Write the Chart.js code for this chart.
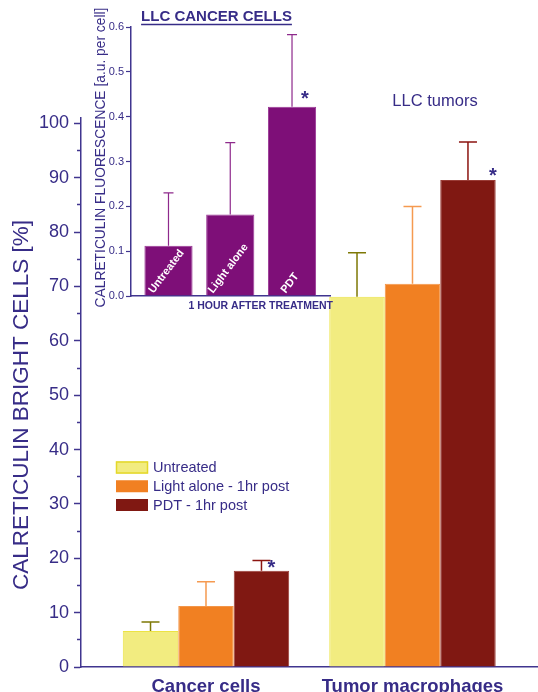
<!DOCTYPE html>
<html>
<head>
<meta charset="utf-8">
<script src="https://cdn.jsdelivr.net/npm/chart.js@4/dist/chart.umd.min.js"></script>
<style>
  body { margin: 0; background: #fff; }
  #wrap { position: relative; width: 538px; height: 692px; overflow: hidden; }
  #main, #inset { position: absolute; left: 0; top: 0; }
</style>
</head>
<body>
<div id="wrap">
  <canvas id="main" width="538" height="692"></canvas>
  <canvas id="inset" width="345" height="325"></canvas>
</div>
<script>
// main chart data
const groups = ['Cancer cells', 'Tumor macrophages'];
const treatments = ['Untreated', 'Light alone - 1hr post', 'PDT - 1hr post'];
const untreated = [6.6, 68.1];
const untreatedErr = [1.7, 8.1];
const lightAlone = [11.2, 70.5];
const lightAloneErr = [4.5, 14.2];
const pdt = [17.7, 89.6];
const pdtErr = [1.9, 7.0];
const mainTicks = [0, 10, 20, 30, 40, 50, 60, 70, 80, 90, 100];
const mainMinorTicks = [5, 15, 25, 35, 45, 55, 65, 75, 85, 95];

// inset data
const insetLabels = ['Untreated', 'Light alone', 'PDT'];
const insetValues = [0.112, 0.182, 0.422];
const insetErr = [0.118, 0.160, 0.161];
const insetTicks = [0, 0.1, 0.2, 0.3, 0.4, 0.5, 0.6];

// significance marks: dataset, bar index, y value
const mainStars = [[2, 0, 19.1], [2, 1, 91.2]];
const insetStars = [[0, 2, 0.45]];

const INDIGO = '#372c87';
const AXIS = '#40358f';
const FONT = "'Liberation Sans', Arial, sans-serif";

const toXY = arr => arr.map((v, i) => ({ x: i, y: v }));

const errorBars = {
  id: 'errorBars',
  afterDatasetsDraw(chart, args, opts) {
    const ctx = chart.ctx;
    const y = chart.scales.y;
    chart.data.datasets.forEach((ds, di) => {
      chart.getDatasetMeta(di).data.forEach((bar, i) => {
        const top = y.getPixelForValue(ds.data[i].y + ds.err[i]);
        ctx.save();
        ctx.strokeStyle = ds.errColor;
        ctx.lineWidth = opts.width;
        ctx.beginPath();
        ctx.moveTo(bar.x, bar.y);
        ctx.lineTo(bar.x, top);
        ctx.moveTo(bar.x - opts.cap / 2, top);
        ctx.lineTo(bar.x + opts.cap / 2, top);
        ctx.stroke();
        ctx.restore();
      });
    });
    // asterisks
    ctx.save();
    ctx.fillStyle = INDIGO;
    ctx.font = 'bold 20px ' + FONT;
    ctx.textAlign = 'center';
    ctx.textBaseline = 'alphabetic';
    opts.stars.forEach(([di, i, v]) => {
      const bar = chart.getDatasetMeta(di).data[i];
      ctx.fillText('*', bar.x + opts.starDx[i], y.getPixelForValue(v) + 11);
    });
    ctx.restore();
  }
};

const mainDecor = {
  id: 'mainDecor',
  afterDraw(chart) {
    const ctx = chart.ctx;
    ctx.save();
    // legend
    chart.data.datasets.forEach((ds, i) => {
      const cy = 467.5 + i * 18.75;
      ctx.fillStyle = ds.backgroundColor;
      ctx.fillRect(116, cy - 6, 32, 12);
      if (i === 0) {
        ctx.strokeStyle = '#e4d82a';
        ctx.lineWidth = 1.5;
        ctx.strokeRect(116.5, cy - 5.5, 31, 11);
      }
      ctx.fillStyle = INDIGO;
      ctx.font = '14.5px ' + FONT;
      ctx.textAlign = 'left';
      ctx.textBaseline = 'middle';
      ctx.fillText(ds.label, 153, cy + 0.5);
    });
    ctx.font = '16.5px ' + FONT;
    ctx.textAlign = 'center';
    ctx.fillText('LLC tumors', 435, 101);
    // y title
    ctx.translate(21.5, 405);
    ctx.rotate(-Math.PI / 2);
    ctx.font = '22.5px ' + FONT;
    ctx.fillText('CALRETICULIN BRIGHT CELLS [%]', 0, 0);
    ctx.restore();
  }
};

new Chart(document.getElementById('main'), {
  type: 'bar',
  data: {
    datasets: [
      { label: treatments[0], data: toXY(untreated), err: untreatedErr,
        backgroundColor: '#f2ec80', borderColor: '#ece344', borderWidth: 1, errColor: '#7e7806' },
      { label: treatments[1], data: toXY(lightAlone), err: lightAloneErr,
        backgroundColor: '#f18022', borderColor: '#f39548', borderWidth: 1, errColor: '#f59a50' },
      { label: treatments[2], data: toXY(pdt), err: pdtErr,
        backgroundColor: '#801812', borderColor: '#9a3c36', borderWidth: 1, errColor: '#8c1410' }
    ]
  },
  options: {
    responsive: false,
    animation: false,
    layout: { padding: { top: 118, right: 0, bottom: 0, left: 0 } },
    datasets: { bar: { categoryPercentage: 0.806, barPercentage: 1 } },
    plugins: {
      legend: { display: false },
      tooltip: { enabled: false },
      errorBars: { width: 1.5, cap: 18, stars: mainStars, starDx: [10, 25] }
    },
    scales: {
      x: {
        type: 'linear', min: -0.6053, max: 1.6078, offset: false, bounds: 'data',
        afterBuildTicks: s => { s.ticks = groups.map((g, i) => ({ value: i })); },
        afterFit: s => { s.height = 25; },
        grid: { display: false, offset: false },
        border: { color: AXIS, width: 1.5 },
        ticks: {
          callback: v => groups[v],
          color: INDIGO, padding: 1, maxRotation: 0, autoSkip: false,
          font: { family: FONT, size: 18.5, weight: 'bold' }
        }
      },
      y: {
        min: 0, max: 101, weight: 1,
        afterBuildTicks: s => { s.ticks = mainTicks.map(v => ({ value: v })); },
        afterFit: s => { s.width = 81; },
        grid: { drawOnChartArea: false, tickLength: 7, tickWidth: 1.5, color: AXIS },
        border: { color: AXIS, width: 1.5 },
        ticks: { color: INDIGO, padding: 5, font: { family: FONT, size: 18 } }
      },
      yMinor: {
        position: 'left', min: 0, max: 101, weight: 0,
        afterBuildTicks: s => { s.ticks = mainMinorTicks.map(v => ({ value: v })); },
        afterFit: s => { s.width = 0; },
        grid: { drawOnChartArea: false, tickLength: 4, tickWidth: 1.5, color: AXIS },
        border: { display: false },
        ticks: { display: false }
      }
    }
  },
  plugins: [errorBars, mainDecor]
});

const insetDecor = {
  id: 'insetDecor',
  afterDatasetsDraw(chart) {
    const ctx = chart.ctx;
    const base = chart.scales.y.getPixelForValue(0);
    const ang = 53 * Math.PI / 180;
    ctx.save();
    ctx.fillStyle = '#ffffff';
    ctx.font = 'bold 11px ' + FONT;
    ctx.textAlign = 'center';
    ctx.textBaseline = 'middle';
    chart.getDatasetMeta(0).data.forEach((bar, i) => {
      const w = ctx.measureText(insetLabels[i]).width;
      ctx.save();
      ctx.translate(bar.x - 2, base - 4 - (w / 2) * Math.sin(ang));
      ctx.rotate(-ang);
      ctx.fillText(insetLabels[i], 0, 0);
      ctx.restore();
    });
    ctx.restore();
  },
  afterDraw(chart) {
    const ctx = chart.ctx;
    ctx.save();
    ctx.fillStyle = INDIGO;
    ctx.strokeStyle = INDIGO;
    ctx.textBaseline = 'middle';
    // title with underline
    ctx.font = 'bold 15px ' + FONT;
    ctx.textAlign = 'center';
    ctx.fillText('LLC CANCER CELLS', 216.5, 17);
    const tw = ctx.measureText('LLC CANCER CELLS').width;
    ctx.lineWidth = 1.5;
    ctx.beginPath();
    ctx.moveTo(216.5 - tw / 2, 24.5);
    ctx.lineTo(216.5 + tw / 2, 24.5);
    ctx.stroke();
    // x title
    ctx.font = 'bold 10.5px ' + FONT;
    ctx.textAlign = 'right';
    ctx.fillText('1 HOUR AFTER TREATMENT', 333, 306.5);
    // y title
    ctx.translate(101, 157.5);
    ctx.rotate(-Math.PI / 2);
    ctx.font = '13.8px ' + FONT;
    ctx.textAlign = 'center';
    ctx.fillText('CALRETICULIN FLUORESCENCE [a.u. per cell]', 0, 0);
    ctx.restore();
  }
};

new Chart(document.getElementById('inset'), {
  type: 'bar',
  data: {
    datasets: [
      { label: 'LLC cancer cells', data: toXY(insetValues), err: insetErr,
        backgroundColor: '#7e0f78', borderColor: '#9a3896', borderWidth: 1, errColor: '#8e2a8c' }
    ]
  },
  options: {
    responsive: false,
    animation: false,
    layout: { padding: { top: 27, right: 15, bottom: 0, left: 0 } },
    datasets: { bar: { categoryPercentage: 0.78, barPercentage: 1 } },
    plugins: {
      legend: { display: false },
      tooltip: { enabled: false },
      errorBars: { width: 1.2, cap: 10, stars: insetStars, starDx: [0, 0, 13] }
    },
    scales: {
      x: {
        type: 'linear', min: -0.607, max: 2.615, offset: false, bounds: 'data',
        afterBuildTicks: s => { s.ticks = insetLabels.map((l, i) => ({ value: i })); },
        afterFit: s => { s.height = 29; },
        grid: { display: false, offset: false },
        border: { color: AXIS, width: 1.5 },
        ticks: { display: false }
      },
      y: {
        min: 0, max: 0.6,
        afterBuildTicks: s => { s.ticks = insetTicks.map(v => ({ value: v })); },
        afterFit: s => { s.width = 131; },
        grid: { drawOnChartArea: false, tickLength: 5, tickWidth: 1.2, color: AXIS },
        border: { color: AXIS, width: 1.5 },
        ticks: { color: INDIGO, padding: 2, callback: v => v.toFixed(1), font: { family: FONT, size: 11 } }
      }
    }
  },
  plugins: [errorBars, insetDecor]
});
</script>
</body>
</html>
